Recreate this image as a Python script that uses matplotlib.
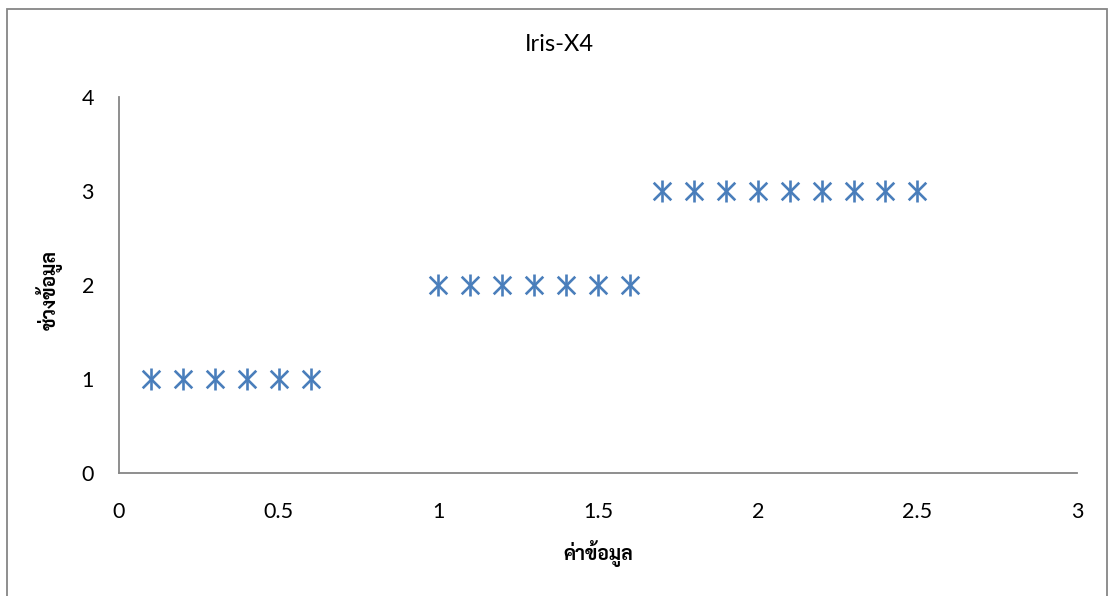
import numpy as np
import matplotlib.pyplot as plt
from matplotlib.patches import Rectangle

plt.rcParams['font.family'] = ['Lato', 'Noto Sans Thai', 'DejaVu Sans']

x_vals = [0.1, 0.2, 0.3, 0.4, 0.5, 0.6,
          1.0, 1.1, 1.2, 1.3, 1.4, 1.5, 1.6,
          1.7, 1.8, 1.9, 2.0, 2.1, 2.2, 2.3, 2.4, 2.5]
y_vals = [1]*6 + [2]*7 + [3]*9

title = 'Iris-X4'
xlabel = 'ค่าข้อมูล'
ylabel = 'ช่วงข้อมูล'
thai = ['Sarabun', 'Noto Sans Thai', 'DejaVu Sans']

fig = plt.figure(figsize=(11.09, 5.96), dpi=100)
ax = fig.add_axes([0.1073, 0.2064, 0.8639, 0.6309])
c = '#4a7ebb'
ax.scatter(x_vals, y_vals, marker='x', s=160, color=c, linewidths=1.9)
ax.scatter(x_vals, y_vals, marker='|', s=230, color=c, linewidths=1.9)
ax.set_xlim(0, 3)
ax.set_ylim(0, 4)
ax.set_xticks([0, 0.5, 1, 1.5, 2, 2.5, 3])
ax.set_xticklabels(['0', '0.5', '1', '1.5', '2', '2.5', '3'])
ax.set_yticks([0, 1, 2, 3, 4])
for s in ['top', 'right']:
    ax.spines[s].set_visible(False)
for s in ['left', 'bottom']:
    ax.spines[s].set_color('#868686')
    ax.spines[s].set_linewidth(1.3)
ax.tick_params(length=0, labelsize=15.5)
ax.tick_params(axis='x', pad=21)
ax.tick_params(axis='y', pad=18)
fig.text(0.504, 0.925, title, ha='center', va='center', fontsize=17)
fig.text(0.539, 0.072, xlabel, ha='center', va='center', fontsize=14,
         fontweight='bold', family=thai)
fig.text(0.044, 0.513, ylabel, ha='center', va='center', rotation=90, fontsize=14,
         fontweight='bold', family=thai)
fig.patches.append(Rectangle((0.006, -0.01), 0.992, 0.995, transform=fig.transFigure,
                             fill=False, edgecolor='#868686', linewidth=1.3))
fig.savefig('out.png', dpi=100)
